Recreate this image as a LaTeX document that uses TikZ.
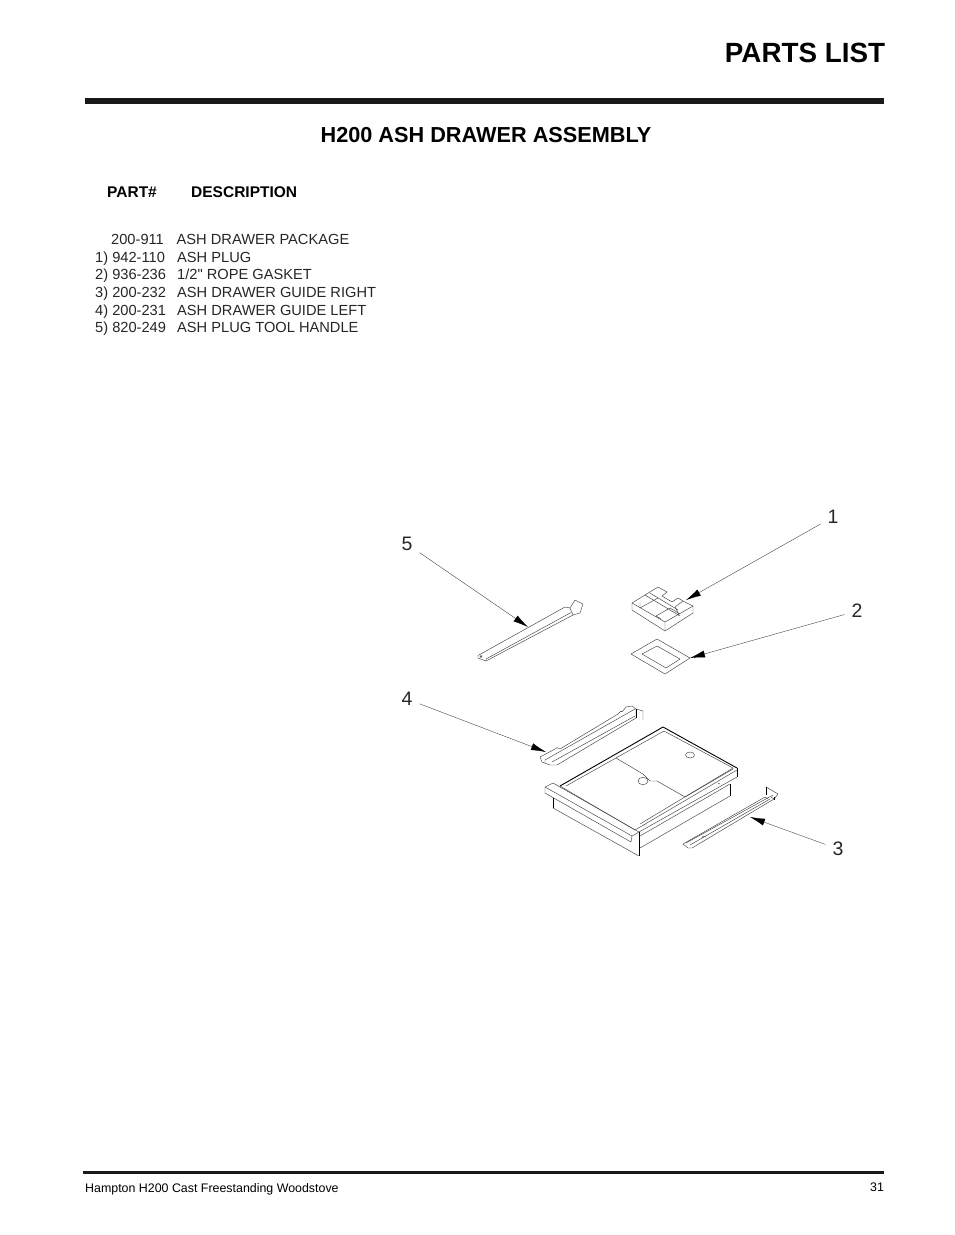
\documentclass[tikz,border=0pt]{standalone}
\usepackage{fontspec}
\setmainfont{Liberation Sans}
\newfontfamily\rowfont{Liberation Sans}
\usetikzlibrary{arrows.meta}

\begin{document}
\begin{tikzpicture}[x=1pt,y=-1pt,
    title/.style={anchor=base,inner sep=0,font=\bfseries\fontsize{27.8}{30}\selectfont},
    heading/.style={anchor=base,inner sep=0,font=\bfseries\fontsize{21.7}{24}\selectfont},
    colhead/.style={anchor=base west,inner sep=0,font=\bfseries\fontsize{15.5}{17}\selectfont},
    row/.style={anchor=base west,inner sep=0,text=black!85,font=\rowfont\fontsize{14.65}{16}\selectfont},
    foot/.style={anchor=base west,inner sep=0,font=\fontsize{12.4}{14}\selectfont},
    num/.style={inner sep=7pt,text=black!85,font=\fontsize{19.5}{22}\selectfont},
    callout/.style={line width=0.35pt,black!80,-{Latex[length=15pt,width=7pt,black]}},
    part/.style={line width=0.45pt,black!75,line join=round},
    heavy/.style={line width=0.9pt,black,line join=round}
    ]
\useasboundingbox (0,0) rectangle (954,1235);

% page furniture
\node[title] (T) at (805,62) {PARTS LIST};
\fill[black!90] (85,98) rectangle (884,104);
\node[heading] (H) at (486,142) {H200 ASH DRAWER ASSEMBLY};
\fill[black!90] (83,1171) rectangle (884,1174);
\node[foot] (F) at (85,1192) {Hampton H200 Cast Freestanding Woodstove};
\node[foot] (P) at (870,1191) {31};

% table
\node[colhead] (PH) at (107,197) {PART\#};
\node[colhead] (DH) at (191,197) {DESCRIPTION};
\node[row] (P0) at (111,244) {200-911};
\node[row] (D0) at (176.5,244) {ASH DRAWER PACKAGE};
\node[row] (P1) at (95,262) {1) 942-110};
\node[row] (D1) at (177,262) {ASH PLUG};
\node[row] (P2) at (95,279) {2) 936-236};
\node[row] (D2) at (177,279) {1/2" ROPE GASKET};
\node[row] (P3) at (95,297) {3) 200-232};
\node[row] (D3) at (177,297) {ASH DRAWER GUIDE RIGHT};
\node[row] (P4) at (95,315) {4) 200-231};
\node[row] (D4) at (177,315) {ASH DRAWER GUIDE LEFT};
\node[row] (P5) at (95,332) {5) 820-249};
\node[row] (D5) at (177,332) {ASH PLUG TOOL HANDLE};

% ash plug
\draw[part] (632,603) -- (645,595) -- (658,587) -- (667,592) -- (662,596) -- (672,602) -- (678,598) -- (683,601) -- (693,606) -- (693,613) -- (665,631) -- (632,610) -- cycle;
\draw[part] (632,603) -- (665,622) -- (693,606) (665,622) -- (665,631);
\draw[part] (645,595) -- (680,616) (650,593) -- (678,610) (683,601) -- (675,607) -- (679,615);
\draw[part] (640,608) -- (658,598) (656,616) -- (670,608) -- (680,614);
\draw[part] (640,608) -- (640,602) (656,616) -- (661,619);

% gasket
\draw[part] (631,654) -- (657,639) -- (690,658) -- (665,674) -- cycle;
\draw[part] (642,654) -- (657,646) -- (680,659) -- (666,668) -- cycle;

% tool handle
\draw[part] (478,655.5) -- (565,607) -- (570,608) -- (575,600) -- (583,604) -- (580,613) -- (573,615) -- (486,661) -- (478,658) -- cycle;
\draw[part] (570,608) -- (573,615);
\draw[part] (486,661) -- (486,659) -- (571,612.5);
\draw[part] (481,656.5) circle (1);

% left guide
\draw[part] (540,757) -- (555,749) -- (557,747.5) -- (560,749) -- (618,714) -- (621,711) -- (622,712) -- (626,707) -- (632,706) -- (636,709) -- (636,718) -- (557,765) -- (550,765) -- (542,762) -- cycle;
\draw[part] (545,763) -- (545,760) -- (635,709);
\draw[part] (552,762) -- (635,716);
\draw[part] (636,709) -- (643,711) -- (643,720);
\draw[heavy] (636,709) -- (636,718);

% right guide
\draw[part] (683,844) -- (765,797) (688,848) -- (692,848) -- (774,799) -- (778,794) -- (766,787);
\draw[part] (683,844) -- (688,848);
\draw[part] (686,843) -- (773,795) (690,845) -- (770,799);
\draw[part] (702,838) -- (703,836) -- (706,837) (765,797) -- (768,799) (771,797) -- (774,799);
\draw[heavy] (766,787) -- (766,795) (774,797) -- (774,800);

% drawer
\draw[heavy] (560,786) -- (663,727) -- (737,768);
\draw[part] (560,786) -- (635,830) -- (737,770);
\draw[part] (566,786) -- (664,731) -- (733,768) -- (640,824);
\draw[part] (616,758) -- (643,774) -- (650,781) -- (657,781) -- (685,797) -- (733,769);
\draw[part] (643,781) ellipse (5 and 3.7);
\draw[part] (690,755) ellipse (4.5 and 3);
% front plate
\draw[part] (545,787) -- (553,783) -- (639,832) -- (632,836) -- cycle;
\draw[part] (545,787) -- (545,793) -- (631,842) -- (632,836);
\draw[part] (553,808) -- (639,856);
\draw[heavy] (639,832) -- (639,856) (553,798) -- (553,808) (730,784) -- (730,796) (737,768) -- (737,777);
\draw[part] (640,848) -- (730,796) (639,832) -- (737,777);
\draw[part] (640,836) -- (730,784);
\draw[part] (643,825) -- (647,825) (718,783) -- (720,784);

% callouts
\node[num] (N1) at (833,517) {1};
\node[num] (N2) at (857,611) {2};
\node[num] (N3) at (838,849) {3};
\node[num] (N4) at (407,699) {4};
\node[num] (N5) at (407,544) {5};
\coordinate (C1) at (686,600);
\coordinate (C2) at (690,658);
\coordinate (C3) at (750,817);
\coordinate (C4) at (546,752);
\coordinate (C5) at (528,627);
\draw[callout] (N1) -- (C1);
\draw[callout] (N2) -- (C2);
\draw[callout] (N3) -- (C3);
\draw[callout] (N4) -- (C4);
\draw[callout] (N5) -- (C5);
\end{tikzpicture}
\end{document}
